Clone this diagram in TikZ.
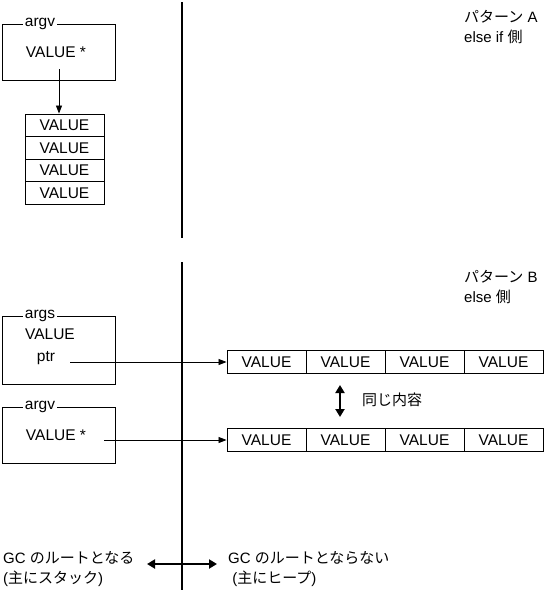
\documentclass[tikz,border=0pt]{standalone}
\usepackage{fontspec}
\setmainfont{Liberation Sans}
\newfontfamily\jp{Noto Sans CJK JP}
\newcommand{\J}[1]{{\jp #1}}
\usetikzlibrary{arrows.meta}
\tikzset{
  lat/.style={font=\fontsize{15.5}{17}\selectfont, inner sep=0pt},
  jptext/.style={font=\fontsize{15}{20}\selectfont, inner sep=0pt, anchor=west, align=left},
  frame/.style={draw, line width=0.9pt, inner sep=0pt},
  boxlabel/.style={lat, fill=white, inner xsep=2pt, inner ysep=0pt},
  cell/.style={draw, line width=0.9pt, lat, minimum width=79pt, inner sep=0pt},
  divider/.style={line width=2.6pt},
  ptr/.style={line width=0.8pt, -{Triangle[length=8pt,width=6pt]}},
  bold/.style={line width=2pt, {Triangle[length=8pt,width=9pt]}-{Triangle[length=8pt,width=9pt]}}
}
\begin{document}
\begin{tikzpicture}[x=1pt,y=-1pt]
\useasboundingbox (0,0) rectangle (550,590);
% dividers
\coordinate (d1t) at (182,2); \coordinate (d1b) at (182,238);
\coordinate (d2t) at (182,262); \coordinate (d2b) at (182,590);
\draw[divider] (d1t) -- (d1b);
\draw[divider] (d2t) -- (d2b);

% Pattern A
\node[frame, minimum width=113pt, minimum height=56pt] (argvA) at (58.5,52) {};
\node[boxlabel] (argvAl) at (40,24) {argv};
\node[lat] (argvAv) at (56,52) {VALUE *};
\node[cell, minimum height=22.5pt] (s1) at (64.5,125.25) {VALUE};
\node[cell, minimum height=22.5pt] (s2) at (64.5,147.75) {VALUE};
\node[cell, minimum height=22.5pt] (s3) at (64.5,170.25) {VALUE};
\node[cell, minimum height=22.5pt] (s4) at (64.5,192.75) {VALUE};
\coordinate (pA) at (59,69);
\draw[ptr] (pA) -- (s1.north -| pA);
\node[jptext] (patA) at (464,27) {\J{パターン} A\\else if \J{側}};

% Pattern B
\node[jptext] (patB) at (464,287) {\J{パターン} B\\else \J{側}};
\node[frame, minimum width=113pt, minimum height=68pt] (args) at (58.5,350) {};
\node[boxlabel] (argsl) at (40,316) {args};
\node[lat] (argsv) at (50,334) {VALUE};
\node[lat] (argsp) at (46,358) {ptr};
\node[frame, minimum width=113pt, minimum height=56pt] (argvB) at (58.5,435) {};
\node[boxlabel] (argvBl) at (40,407) {argv};
\node[lat] (argvBv) at (56,435) {VALUE *};

\foreach \i/\x in {1/266.5,2/345.5,3/424.5,4/503.5}{
  \node[cell, minimum height=22.5pt] (a\i) at (\x,361.75) {VALUE};
  \node[cell, minimum height=22.5pt] (b\i) at (\x,440) {VALUE};
}
\coordinate (pB1) at (70,362);
\coordinate (pB2) at (104,440);
\draw[ptr] (pB1) -- (a1.west |- pB1);
\draw[ptr] (pB2) -- (b1.west |- pB2);

\coordinate (sameT) at (340,385);
\coordinate (sameB) at (340,417);
\draw[bold] (sameT) -- (sameB);
\node[jptext] (same) at (362,400) {\J{同じ内容}};

% bottom legend
\node[jptext] (root) at (3,569) {GC \J{のルートとなる}\\(\J{主にスタック})};
\node[jptext] (noroot) at (228,569) {GC \J{のルートとならない}\\\ (\J{主にヒープ})};
\coordinate (lA) at (147,564);
\coordinate (lB) at (217,564);
\draw[bold] (lA) -- (lB);
\end{tikzpicture}
\end{document}
